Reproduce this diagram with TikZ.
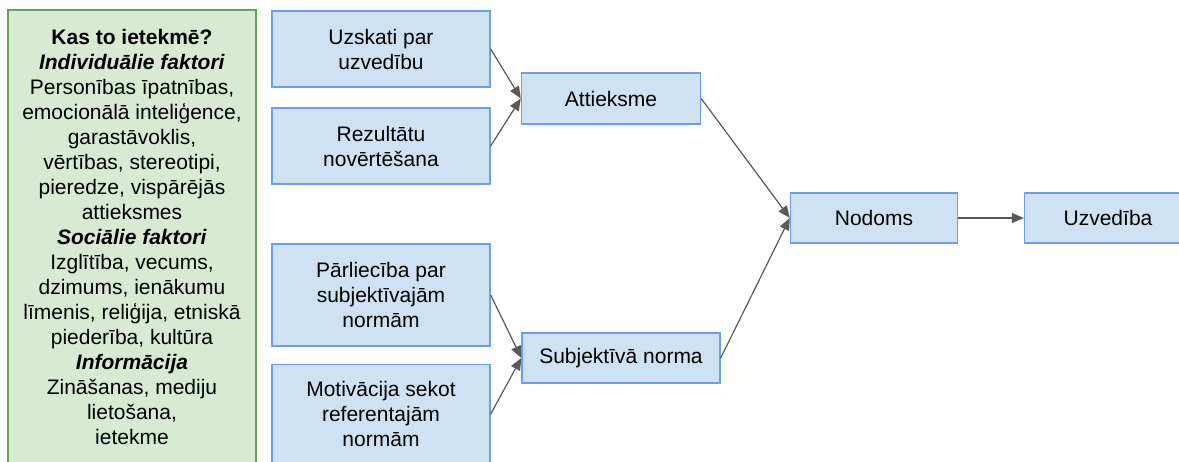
\documentclass[tikz,border=0pt]{standalone}
\usepackage{fontspec}
\setmainfont{Liberation Sans}
\usetikzlibrary{arrows.meta}
\definecolor{boxfill}{HTML}{CFE2F3}
\definecolor{boxline}{HTML}{6D9EEB}
\definecolor{greenfill}{HTML}{D9EAD3}
\definecolor{greenline}{HTML}{6AA84F}
\definecolor{arrowgray}{HTML}{595959}
\begin{document}
\begin{tikzpicture}[x=1pt,y=-1pt,
  every node/.style={font=\fontsize{21}{25}\selectfont, align=center, inner sep=0pt},
  bluebox/.style={rectangle, draw=boxline, fill=boxfill, line width=1.4pt},
  greenbox/.style={rectangle, draw=greenline, fill=greenfill, line width=1.4pt},
  link/.style={draw=arrowgray, line width=1.2pt, -{Triangle[length=12pt,width=10pt]}}]
\useasboundingbox (0,0) rectangle (1179,462);

% factors influencing the model
\node[greenbox, minimum width=248pt, minimum height=454pt] (factors) at (132,237)
  {\textbf{Kas to ietekmē?}\\
   \textbf{\textit{Individuālie faktori}}\\
   Personības īpatnības,\\
   emocionālā inteliģence,\\
   garastāvoklis,\\
   vērtības, stereotipi,\\
   pieredze, vispārējās\\
   attieksmes\\
   \textbf{\textit{Sociālie faktori}}\\
   Izglītība, vecums,\\
   dzimums, ienākumu\\
   līmenis, reliģija, etniskā\\
   piederība, kultūra\\
   \textbf{\textit{Informācija}}\\
   Zināšanas, mediju\\
   lietošana,\\
   ietekme};

% input boxes
\node[bluebox, minimum width=218pt, minimum height=76pt] (uzskati) at (381,49) {Uzskati par\\uzvedību};
\node[bluebox, minimum width=218pt, minimum height=76pt] (rezult) at (381,146) {Rezultātu\\novērtēšana};
\node[bluebox, minimum width=218pt, minimum height=102pt] (parl) at (381,295) {Pārliecība par\\subjektīvajām\\normām};
\node[bluebox, minimum width=218pt, minimum height=99pt] (motiv) at (381,414) {Motivācija sekot\\referentajām\\normām};

% intermediate constructs
\node[bluebox, minimum width=179pt, minimum height=51pt] (attieksme) at (611,98.5) {Attieksme};
\node[bluebox, minimum width=198pt, minimum height=50pt] (subj) at (621,358) {Subjektīvā norma};

% intention and behaviour
\node[bluebox, minimum width=167pt, minimum height=50pt] (nodoms) at (874,218) {Nodoms};
\node[bluebox, minimum width=167pt, minimum height=50pt] (uzved) at (1108,218) {Uzvedība};

% connectors
\draw[link] (uzskati.east) -- (attieksme.west);
\draw[link] (rezult.east) -- (attieksme.west);
\draw[link] (parl.east) -- (subj.west);
\draw[link] (motiv.east) -- (subj.west);
\draw[link] (attieksme.east) -- (nodoms.west);
\draw[link] (subj.east) -- (nodoms.west);
\draw[link] (nodoms.east) -- (uzved.west);
\end{tikzpicture}
\end{document}
